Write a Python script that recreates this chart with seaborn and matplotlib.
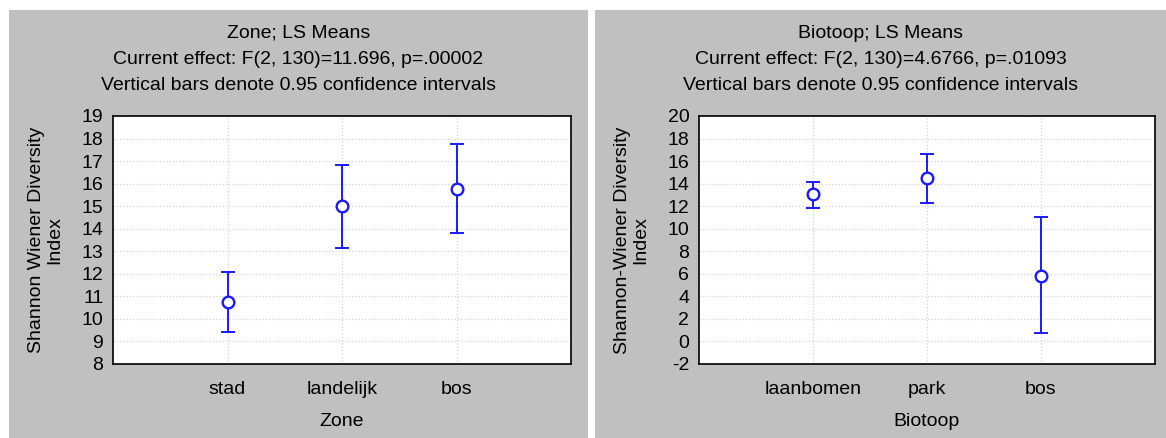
import numpy as np
import pandas as pd
import matplotlib
matplotlib.use("Agg")
import matplotlib.pyplot as plt
from matplotlib.patches import Rectangle
import seaborn as sns

## values
zone_cats = ["stad", "landelijk", "bos"]
zone_mean = [10.75, 15.0, 15.78]
zone_lo = [9.4, 13.15, 13.82]
zone_hi = [12.1, 16.82, 17.75]

bio_cats = ["laanbomen", "park", "bos"]
bio_mean = [13.05, 14.5, 5.85]
bio_lo = [11.85, 12.3, 0.75]
bio_hi = [14.15, 16.65, 11.0]

sns.set_style("white")
plt.rcParams['font.family'] = ['Liberation Sans', 'DejaVu Sans']
plt.rcParams['axes.unicode_minus'] = False
plt.rcParams['text.color'] = 'black'
plt.rcParams['axes.labelcolor'] = 'black'

W, H = 1166, 438
fig = plt.figure(figsize=(W/100, H/100), dpi=100)
fig.patch.set_facecolor('white')

GRAY = '#c0c0c0'
BLUE = '#1a1aff'
FS = 14

def px(x0, y0, x1, y1):
    ## pixel box -> figure fraction [l, b, w, h]
    return [x0/W, 1 - y1/H, (x1-x0)/W, (y1-y0)/H]

def panel(box, axbox, cats, mean, lo, hi, titles, xlabel, ylabel, ylim, yticks):
    l, b, w, h = px(*box)
    fig.patches.append(Rectangle((l, b), w, h, transform=fig.transFigure,
                                 facecolor=GRAY, edgecolor='none', zorder=-10))
    ## title lines, centred on the grey panel
    cx = (box[0] + box[2]) / 2 / W
    for k, t in enumerate(titles):
        fig.text(cx, 1 - (33 + 26.5*k)/H, t, ha='center', va='center', fontsize=FS)
    ax = fig.add_axes(px(*axbox))
    df = pd.DataFrame({"x": np.arange(1, len(cats)+1), "mean": mean,
                       "lo": lo, "hi": hi})
    ax.errorbar(df["x"], df["mean"],
                yerr=[df["mean"]-df["lo"], df["hi"]-df["mean"]],
                fmt='none', ecolor=BLUE, elinewidth=1.4, capsize=5, capthick=1.4, zorder=3)
    sns.scatterplot(data=df, x="x", y="mean", ax=ax, marker='o', s=70,
                    facecolor='white', edgecolor=BLUE, linewidth=1.7, zorder=4)
    ax.set_xlim(0, len(cats)+1)
    ax.set_ylim(*ylim)
    ax.set_yticks(yticks)
    ax.set_xticks(df["x"])
    ax.set_xticklabels(cats)
    ax.grid(True, color='#d4d4d4', linestyle=':', linewidth=0.9)
    ax.set_axisbelow(True)
    for s in ax.spines.values():
        s.set_color('black')
        s.set_linewidth(1.2)
    ax.tick_params(axis='both', direction='in', length=4, width=1, labelsize=FS,
                   colors='black', pad=7)
    ax.tick_params(axis='x', pad=12)
    ax.set_xlabel(xlabel, fontsize=FS, labelpad=11)
    ax.set_ylabel(ylabel, fontsize=FS, labelpad=13, linespacing=1.1)
    return ax

panel((9, 10, 588, 438), (113, 116, 571, 364), zone_cats, zone_mean, zone_lo, zone_hi,
      ["Zone; LS Means", "Current effect: F(2, 130)=11.696, p=.00002",
       "Vertical bars denote 0.95 confidence intervals"],
      "Zone", "Shannon Wiener Diversity\nIndex", (8, 19), np.arange(8, 20, 1))

panel((595, 10, 1166, 438), (699, 116, 1155, 364), bio_cats, bio_mean, bio_lo, bio_hi,
      ["Biotoop; LS Means", "Current effect: F(2, 130)=4.6766, p=.01093",
       "Vertical bars denote 0.95 confidence intervals"],
      "Biotoop", "Shannon-Wiener Diversity\nIndex", (-2, 20), np.arange(-2, 22, 2))

fig.savefig("out.png", dpi=100, facecolor=fig.get_facecolor())
